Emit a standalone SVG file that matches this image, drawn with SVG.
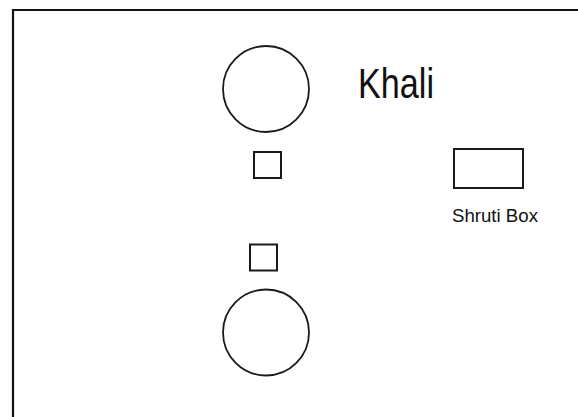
<svg xmlns="http://www.w3.org/2000/svg" width="578" height="417" viewBox="0 0 578 417">
<style>
.s{fill:none;stroke:#1a1a1a;stroke-width:2}
.c{fill:#fff;stroke:#1a1a1a;stroke-width:1.8}
.t{font-family:"Liberation Sans",Arial,sans-serif;fill:#111}
</style>
<rect width="578" height="417" fill="#fff"/>
<path d="M13 430 V10 H590" fill="none" stroke="#111" stroke-width="2.2"/>
<g id="drum-top"><circle class="c" cx="266" cy="89" r="43"/></g>
<g id="khali"><text class="t" x="358" y="98" font-size="43" textLength="76" lengthAdjust="spacingAndGlyphs">Khali</text></g>
<g id="sq-top"><rect class="s" x="254" y="152" width="27" height="26"/></g>
<g id="sq-bottom"><rect class="s" x="250" y="244.5" width="27" height="26"/></g>
<g id="shruti"><rect class="s" x="454" y="149" width="69" height="39"/>
<text class="t" x="452" y="221.5" font-size="18.7" textLength="86" lengthAdjust="spacingAndGlyphs">Shruti Box</text></g>
<g id="drum-bottom"><circle class="c" cx="266" cy="332.5" r="43"/></g>
<g id="connectors"/>
</svg>
